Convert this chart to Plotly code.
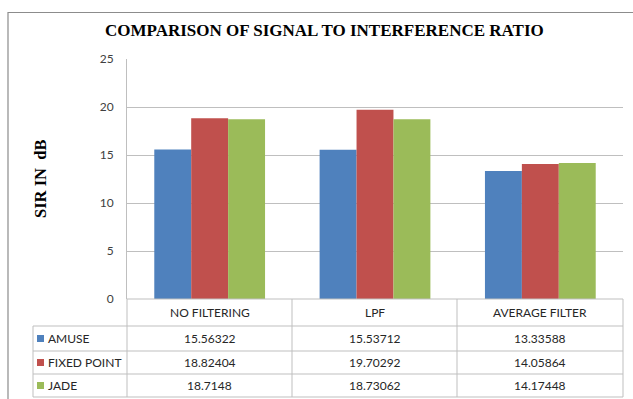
import plotly.graph_objects as go

categories = ["NO FILTERING", "LPF", "AVERAGE FILTER"]
series_names = ["AMUSE", "FIXED POINT", "JADE"]
amuse = [15.56322, 15.53712, 13.33588]
fixed_point = [18.82404, 19.70292, 14.05864]
jade = [18.7148, 18.73062, 14.17448]
colors = ["#4F81BD", "#C0504D", "#9BBB59"]
y_ticks = [0, 5, 10, 15, 20, 25]
title_text = "COMPARISON OF SIGNAL TO INTERFERENCE RATIO"
y_title = "SIR IN  dB"

W, H = 633, 399
L, R, T, B = 127, 10, 59, 100
PW, PH = W - L - R, H - T - B


def X(px):
    return (px - L) / PW


def Y(py):
    return (H - B - py) / PH


series = [amuse, fixed_point, jade]
fig = go.Figure()
for name, vals, col in zip(series_names, series, colors):
    fig.add_trace(go.Bar(x=categories, y=vals, name=name, marker_color=col,
                         marker_line_width=0, showlegend=False))

shapes = []
annotations = []
line_col = "#BFBFBF"
# outer frame
shapes.append(dict(type="rect", xref="paper", yref="paper", x0=X(8), x1=X(640),
                   y0=Y(12.5), y1=Y(410), line=dict(color="#8C8C8C", width=1.2),
                   fillcolor="rgba(0,0,0,0)", layer="below"))

# table
col_edges = [127, 292, 457, 623]
row_edges = [299, 326, 351, 374, 397]
tbl_left = 33
for i, ry in enumerate(row_edges):
    x0 = 127 if i == 0 else tbl_left
    shapes.append(dict(type="line", xref="paper", yref="paper", x0=X(x0), x1=X(623),
                       y0=Y(ry), y1=Y(ry), line=dict(color=line_col, width=1)))
for cx in col_edges:
    shapes.append(dict(type="line", xref="paper", yref="paper", x0=X(cx), x1=X(cx),
                       y0=Y(299), y1=Y(397), line=dict(color=line_col, width=1)))
shapes.append(dict(type="line", xref="paper", yref="paper", x0=X(tbl_left), x1=X(tbl_left),
                   y0=Y(326), y1=Y(397), line=dict(color=line_col, width=1)))

tfont = dict(family="Lato, 'Open Sans', sans-serif", size=12, color="#262626")
for j, cat in enumerate(categories):
    cx = (col_edges[j] + col_edges[j + 1]) / 2
    annotations.append(dict(x=X(cx), y=Y((row_edges[0] + row_edges[1]) / 2), xref="paper",
                            yref="paper", text=cat, showarrow=False, font=tfont,
                            xanchor="center", yanchor="middle"))
for i, (name, vals, col) in enumerate(zip(series_names, series, colors)):
    cy = (row_edges[i + 1] + row_edges[i + 2]) / 2
    shapes.append(dict(type="rect", xref="paper", yref="paper", x0=X(37), x1=X(44),
                       y0=Y(cy - 3.5), y1=Y(cy + 3.5), fillcolor=col, line_width=0))
    annotations.append(dict(x=X(46), y=Y(cy), xref="paper", yref="paper", text=name,
                            showarrow=False, font=tfont, xanchor="left", yanchor="middle"))
    for j, v in enumerate(vals):
        cx = (col_edges[j] + col_edges[j + 1]) / 2
        annotations.append(dict(x=X(cx), y=Y(cy), xref="paper", yref="paper", text=f"{v}",
                                showarrow=False, font=tfont, xanchor="center",
                                yanchor="middle"))

annotations.append(dict(x=X(324), y=Y(31), xref="paper", yref="paper", text=f"<b>{title_text}</b>",
                        showarrow=False, xanchor="center", yanchor="middle",
                        font=dict(family="Liberation Serif, serif", size=17, color="#000000")))
annotations.append(dict(x=X(40), y=Y(179), xref="paper", yref="paper", text=f"<b>{y_title}</b>",
                        showarrow=False, xanchor="center", yanchor="middle", textangle=-90,
                        font=dict(family="Liberation Serif, serif", size=16.5, color="#000000")))

fig.update_layout(
    width=W, height=H,
    margin=dict(l=L, r=R, t=T, b=B, pad=0),
    paper_bgcolor="white", plot_bgcolor="white",
    barmode="group", bargap=0.33, bargroupgap=0,
    shapes=shapes, annotations=annotations,
    xaxis=dict(showticklabels=False, showgrid=False, zeroline=False, showline=False,
               ticks=""),
    yaxis=dict(range=[0, 25], tickvals=y_ticks, showgrid=True, gridcolor=line_col,
               gridwidth=1, zeroline=False, showline=True, linecolor=line_col, linewidth=1,
               ticks="", ticklabelstandoff=10,
               tickfont=dict(family="Lato, 'Open Sans', sans-serif", size=12, color="#404040")),
)

fig.write_html("out.html")
